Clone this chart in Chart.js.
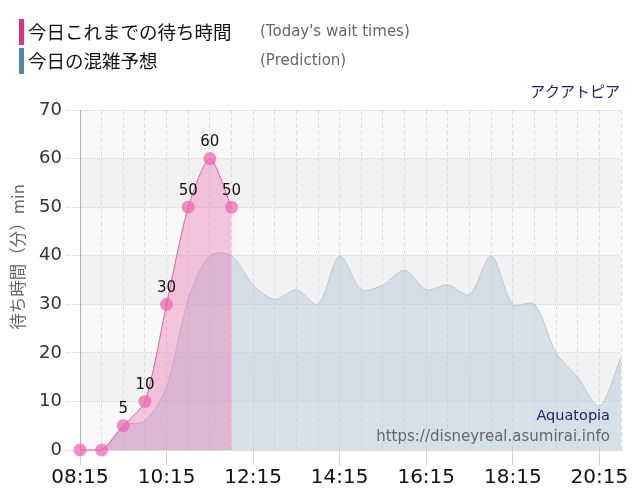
<!DOCTYPE html>
<html>
<head>
<meta charset="utf-8">
<script src="https://cdn.jsdelivr.net/npm/chart.js@4/dist/chart.umd.min.js"></script>
<style>
    body { margin: 0; background: #fff; }
    .wrap { position: relative; width: 640px; height: 500px; }
    .legend-row { position: absolute; left: 19px; height: 26px; line-height: 26px; }
    .legend-row .bar { position: absolute; left: 0; top: 0; width: 5px; height: 26px; }
    .legend-row .jp { position: absolute; left: 9px; top: -1px; white-space: nowrap;
        font-family: "Noto Sans CJK JP", sans-serif; font-size: 18.5px; color: #111; }
    .legend-row .en { position: absolute; left: 241px; top: -1px; white-space: nowrap;
        font-family: "DejaVu Sans", sans-serif; font-size: 15px; color: #666; }
</style>
</head>
<body>
<div class="wrap">
    <canvas id="waitChart" width="640" height="500"></canvas>
    <div class="legend-row" style="top:19px">
        <div class="bar" style="background:#f0268e"></div>
        <span class="jp">今日これまでの待ち時間</span>
        <span class="en">(Today's wait times)</span>
    </div>
    <div class="legend-row" style="top:48px">
        <div class="bar" style="background:#4b86b8"></div>
        <span class="jp">今日の混雑予想</span>
        <span class="en">(Prediction)</span>
    </div>
</div>
<script>
// time slots, every 30 min
const times = ['08:15', '08:45', '09:15', '09:45', '10:15', '10:45', '11:15', '11:45',
    '12:15', '12:45', '13:15', '13:45', '14:15', '14:45', '15:15', '15:45',
    '16:15', '16:45', '17:15', '17:45', '18:15', '18:45', '19:15', '19:45',
    '20:15', '20:45'];
const tickLabels = ['08:15', '10:15', '12:15', '14:15', '16:15', '18:15', '20:15'];

// today's actual wait times (min)
const actualWait = [0, 0, 5, 10, 30, 50, 60, 50];
// predicted wait times (min)
const predictedWait = [0, 0, 5, 6, 13, 31, 40, 40, 34, 31, 33, 30, 40, 33, 34, 37,
    33, 34, 32, 40, 30, 30, 20, 15, 9, 19];
const yTicks = [0, 10, 20, 30, 40, 50, 60, 70];

const attractionName = 'アクアトピア';
const yTitle = '待ち時間（分）min';
const watermarkName = 'Aquatopia';
const watermarkUrl = 'https://disneyreal.asumirai.info';

// ---------- plugins ----------
const bandsPlugin = {
    id: 'bands',
    beforeDraw(chart) {
        const {ctx, chartArea: a, scales: {y}} = chart;
        ctx.save();
        for (let i = 0; i < yTicks.length - 1; i++) {
            const top = y.getPixelForValue(yTicks[i + 1]);
            const bottom = y.getPixelForValue(yTicks[i]);
            ctx.fillStyle = (i % 2 === 0) ? '#f8f8f8' : '#f2f2f2';
            ctx.fillRect(a.left, top, a.right - a.left, bottom - top);
        }
        ctx.restore();
    }
};

const textPlugin = {
    id: 'texts',
    afterDatasetsDraw(chart) {
        const {ctx, chartArea: a} = chart;
        ctx.save();

        // value labels above today's points
        const meta = chart.getDatasetMeta(0);
        ctx.font = '15px "DejaVu Sans", sans-serif';
        ctx.fillStyle = '#111';
        ctx.textAlign = 'center';
        ctx.textBaseline = 'bottom';
        meta.data.forEach((pt, i) => {
            const v = actualWait[i];
            if (v == null || v === 0) return;
            ctx.fillText(String(v), pt.x, pt.y - 9);
        });

        // watermark
        ctx.textAlign = 'right';
        ctx.textBaseline = 'alphabetic';
        ctx.font = '14.5px "DejaVu Sans", sans-serif';
        ctx.fillStyle = '#22226e';
        ctx.fillText(watermarkName, a.right - 11, a.bottom - 30);
        ctx.font = '15px "DejaVu Sans", sans-serif';
        ctx.fillStyle = '#666';
        ctx.fillText(watermarkUrl, a.right - 11, a.bottom - 9);

        // attraction name
        ctx.font = '15px "Noto Sans CJK JP", sans-serif';
        ctx.fillStyle = '#22226e';
        ctx.textBaseline = 'middle';
        ctx.fillText(attractionName, a.right - 1, a.top - 19);

        // y axis title
        ctx.translate(18, a.top + 147);
        ctx.rotate(-Math.PI / 2);
        ctx.textAlign = 'center';
        ctx.font = '16.5px "Noto Sans CJK JP", sans-serif';
        ctx.fillStyle = '#666';
        ctx.fillText(yTitle, 0, 0);
        ctx.restore();
    }
};

// ---------- chart ----------
const ctx = document.getElementById('waitChart').getContext('2d');
new Chart(ctx, {
    type: 'line',
    data: {
        labels: times,
        datasets: [{
            label: '今日これまでの待ち時間',
            data: actualWait,
            borderColor: '#ee5aab',
            borderWidth: 1,
            backgroundColor: 'rgba(238,100,172,0.35)',
            fill: 'origin',
            clip: false,
            tension: 0.25,
            pointRadius: 6.5,
            pointBorderWidth: 0,
            pointBackgroundColor: 'rgba(238,100,175,0.72)'
        }, {
            label: '今日の混雑予想',
            data: predictedWait,
            borderColor: '#b6c7d4',
            borderWidth: 1,
            backgroundColor: 'rgba(172,196,216,0.45)',
            fill: 'origin',
            tension: 0.3,
            pointRadius: 0
        }]
    },
    options: {
        responsive: false,
        animation: false,
        layout: { padding: { top: 110, right: 19, left: 0, bottom: 0 } },
        plugins: {
            legend: { display: false },
            tooltip: { enabled: false }
        },
        scales: {
            x: {
                afterFit: (scale) => { scale.height = 50; },
                grid: {
                    color: '#dcdcdc',
                    tickLength: 15,
                    tickColor: (c) => tickLabels.includes(times[c.index]) ? '#d0d0d0' : 'rgba(0,0,0,0)',
                    tickBorderDash: []
                },
                border: { color: '#dedede', dash: [4, 3] },
                ticks: {
                    autoSkip: false,
                    maxRotation: 0,
                    padding: 1,
                    color: '#111',
                    font: { family: '"DejaVu Sans", sans-serif', size: 20 },
                    callback: (v, i) => tickLabels.includes(times[i]) ? times[i] : ''
                }
            },
            y: {
                min: 0,
                max: 70,
                afterFit: (scale) => { scale.width = 80; },
                grid: { color: '#d2d2d2', tickLength: 14, tickBorderDash: [1, 1] },
                border: { color: '#b0b0b8', dash: [1, 1] },
                ticks: {
                    stepSize: 10,
                    padding: 4,
                    color: '#333',
                    font: { family: '"DejaVu Sans", sans-serif', size: 18 }
                }
            }
        }
    },
    plugins: [bandsPlugin, textPlugin]
});
</script>
</body>
</html>
